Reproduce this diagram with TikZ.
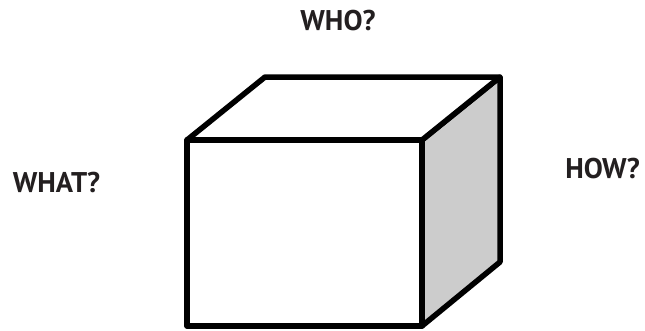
\documentclass[tikz,border=0pt]{standalone}
\usepackage{fontspec}
\setmainfont{PT Sans}
\definecolor{txt}{HTML}{231F20}
\definecolor{side}{HTML}{CCCCCC}
\begin{document}
\begin{tikzpicture}[x=1pt,y=-1pt,
  edge/.style={draw=black,line width=5.5pt,line join=round},
  label/.style={font=\bfseries\fontsize{28.5}{32}\selectfont,text=txt,anchor=base,inner sep=0pt}]
\useasboundingbox (0,0) rectangle (645,330);
\coordinate (ftl) at (187,140);
\coordinate (ftr) at (422,140);
\coordinate (fbl) at (187,326);
\coordinate (fbr) at (422,326);
\coordinate (btl) at (265,77);
\coordinate (btr) at (500,77);
\coordinate (bbr) at (500,262);
\filldraw[edge,fill=side] (ftr) -- (btr) -- (bbr) -- (fbr) -- cycle;
\filldraw[edge,fill=white] (ftl) -- (btl) -- (btr) -- (ftr) -- cycle;
\filldraw[edge,fill=white] (ftl) rectangle (fbr);
\node[label] (who) at (338,30) {WHO?};
\node[label] (what) at (56.5,192) {WHAT?};
\node[label] (how) at (602.5,178) {HOW?};
\end{tikzpicture}
\end{document}
